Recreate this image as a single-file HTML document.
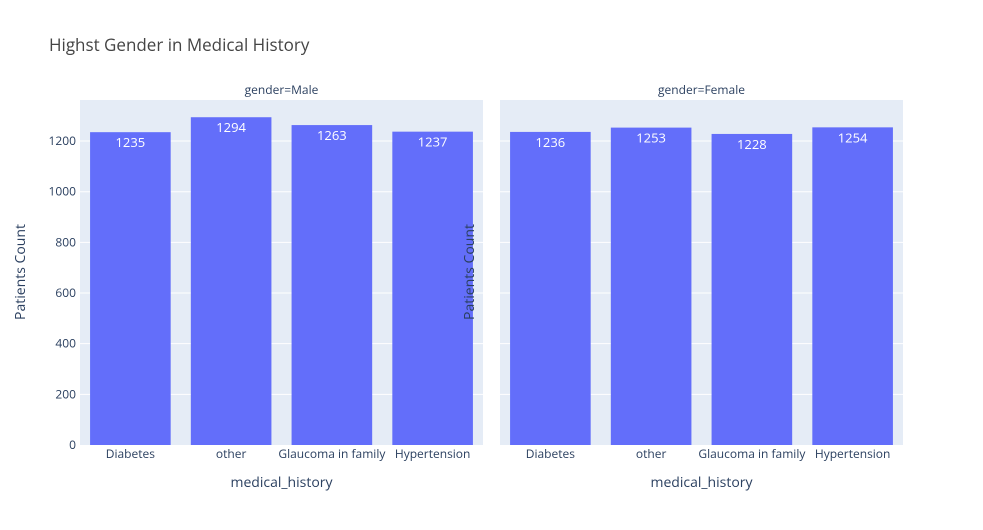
<!DOCTYPE html>
<html><head><meta charset="utf-8"><style>
body{margin:0;background:#fff;}
svg{font-family:"Open Sans","Liberation Sans",sans-serif;}
</style></head><body>
<svg id="chart" width="983" height="525" xmlns="http://www.w3.org/2000/svg">
<rect width="983" height="525" fill="#fff"/>
<text x="49" y="51" font-size="17" fill="#444">Highst Gender in Medical History</text>
<g id="plots"></g>
</svg>
<script>
const categories = ["Diabetes","other","Glaucoma in family","Hypertension"];
const maleValues = [1235,1294,1263,1237];
const femaleValues = [1236,1253,1228,1254];
const panelTitles = ["gender=Male","gender=Female"];
const yTicks = [0,200,400,600,800,1000,1200];

const NS="http://www.w3.org/2000/svg";
const g=document.getElementById('plots');
const plotTop=100,plotBottom=445,yMax=1362;
function yScale(v){return plotBottom-(v/yMax)*(plotBottom-plotTop);}
function mk(tag,attrs,parent){const e=document.createElementNS(NS,tag);for(const k in attrs)e.setAttribute(k,attrs[k]);(parent||g).appendChild(e);return e;}
const panels=[{x0:80,x1:483,vals:maleValues,name:'male'},{x0:500,x1:903,vals:femaleValues,name:'female'}];
panels.forEach((p,pi)=>{
  const bg=mk('rect',{x:p.x0,y:plotTop,width:p.x1-p.x0,height:plotBottom-plotTop,fill:'#e5ecf6'});
  
  
  yTicks.forEach(t=>{
    if(t>0){const l=mk('line',{x1:p.x0,x2:p.x1,y1:yScale(t),y2:yScale(t),stroke:'#fff','stroke-width':1});
    
    }
    if(pi===0){const tx=mk('text',{x:p.x0-4,y:yScale(t)+4,'font-size':12,fill:'#2a3f5f','text-anchor':'end'});
    tx.textContent=t;
    
    }
  });
  const band=(p.x1-p.x0)/categories.length;
  categories.forEach((c,i)=>{
    const v=p.vals[i];
    const cx=p.x0+band*(i+0.5);
    const bw=band*0.8;
    const r=mk('rect',{x:cx-bw/2,y:yScale(v),width:bw,height:plotBottom-yScale(v),fill:'#636efa'});
    
    
    const vt=mk('text',{x:cx,y:yScale(v)+15,'font-size':13,fill:'#fff','text-anchor':'middle'});
    vt.textContent=v;
    
    
    const ct=mk('text',{x:cx,y:plotBottom+13,'font-size':12,fill:'#2a3f5f','text-anchor':'middle'});
    ct.textContent=c;
    
    
  });
  const mid=(p.x0+p.x1)/2;
  const st=mk('text',{x:mid,y:94,'font-size':12,fill:'#2a3f5f','text-anchor':'middle'});
  st.textContent=panelTitles[pi];
  
  
  const xt=mk('text',{x:mid,y:487,'font-size':14,fill:'#2a3f5f','text-anchor':'middle'});
  xt.textContent='medical_history';
  
  
  const yx=pi===0?25:474;
  const yt=mk('text',{x:yx,y:272,'font-size':14,fill:'#2a3f5f','text-anchor':'middle',transform:'rotate(-90 '+yx+' 272)'});
  yt.textContent='Patients Count';
  
  
});
</script>
</body></html>
